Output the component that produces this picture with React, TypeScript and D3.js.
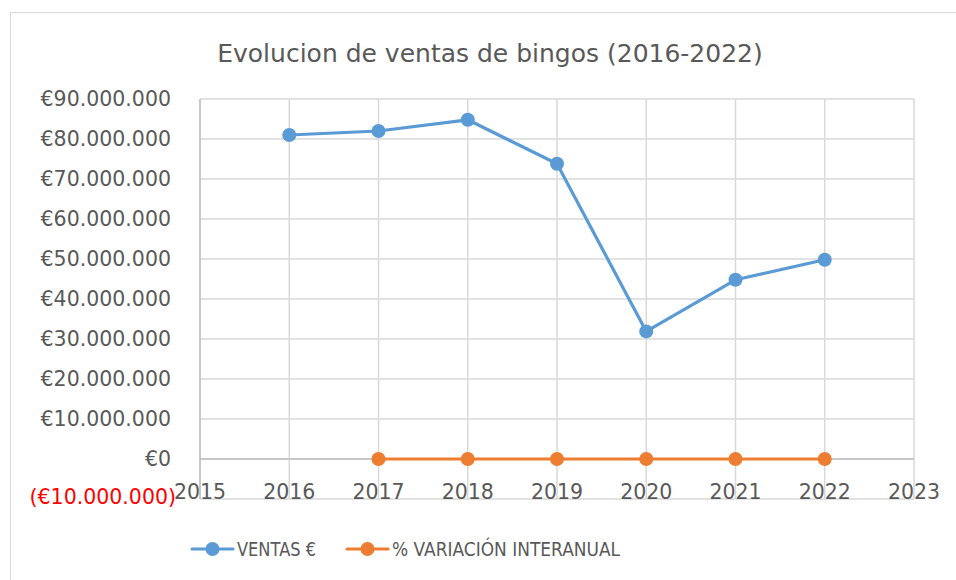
import React, { useEffect, useRef } from 'react';
import * as d3 from 'd3';

const years = [2016, 2017, 2018, 2019, 2020, 2021, 2022];
const ventas = [81000000, 82000000, 84800000, 73800000, 31900000, 44800000, 49800000];
// % variación interanual (starts in 2017)
const variacionYears = [2017, 2018, 2019, 2020, 2021, 2022];
const variacion = [0.012, 0.034, -0.13, -0.57, 0.4, 0.11];
const yTicks = [-10000000, 0, 10000000, 20000000, 30000000, 40000000, 50000000, 60000000, 70000000, 80000000, 90000000];
const xTicks = [2015, 2016, 2017, 2018, 2019, 2020, 2021, 2022, 2023];

const BLUE = '#5b9bd5';
const ORANGE = '#ed7d31';
const TEXT = '#595959';
const FONT = '"DejaVu Sans", sans-serif';

const fmt = (v: number) => {
  const s = '€' + d3.format(',')(Math.abs(v)).replace(/,/g, '.');
  return v < 0 ? `(${s})` : s;
};

const App = () => {
  const ref = useRef<SVGSVGElement | null>(null);

  useEffect(() => {
    if (!ref.current) return;
    const svg = d3.select(ref.current);
    svg.selectAll('*').remove();

    const margin = { top: 99, left: 200, right: 42, bottom: 81 };
    const width = 956 - margin.left - margin.right;
    const height = 580 - margin.top - margin.bottom;

    // chart frame (cropped like the original)
    svg.append('rect')
      .attr('x', 10.5).attr('y', 12.5)
      .attr('width', 960).attr('height', 600)
      .attr('fill', '#fff').attr('stroke', '#d9d9d9');

    svg.append('text')
      .attr('x', 490).attr('y', 62)
      .attr('text-anchor', 'middle')
      .attr('font-family', FONT).attr('font-size', 25)
      .attr('fill', TEXT)
      .text('Evolucion de ventas de bingos (2016-2022)');

    const x = d3.scaleLinear().domain([2015, 2023]).range([0, width]);
    const y = d3.scaleLinear().domain([-10000000, 90000000]).range([height, 0]);

    const g = svg.append('g').attr('transform', `translate(${margin.left},${margin.top})`);

    // gridlines
    g.selectAll('.hgrid').data(yTicks).enter().append('line')
      .attr('x1', 0).attr('x2', width)
      .attr('y1', (d) => y(d)).attr('y2', (d) => y(d))
      .attr('stroke', '#d9d9d9').attr('stroke-width', 1.5);
    g.selectAll('.vgrid').data(xTicks).enter().append('line')
      .attr('x1', (d) => x(d)).attr('x2', (d) => x(d))
      .attr('y1', 0).attr('y2', height)
      .attr('stroke', '#d9d9d9').attr('stroke-width', 1.5);

    // axes lines
    g.append('line')
      .attr('x1', 0).attr('x2', width)
      .attr('y1', y(0)).attr('y2', y(0))
      .attr('stroke', '#bfbfbf').attr('stroke-width', 1.5);
    g.append('line')
      .attr('x1', 0).attr('x2', 0)
      .attr('y1', 0).attr('y2', height)
      .attr('stroke', '#bfbfbf').attr('stroke-width', 1.5);

    // y labels
    g.selectAll('.ylab').data(yTicks).enter().append('text')
      .attr('x', (d) => (d < 0 ? -24 : -29))
      .attr('y', (d) => y(d) + (d < 0 ? -2 : 0))
      .attr('dy', '0.35em')
      .attr('text-anchor', 'end')
      .attr('font-family', FONT).attr('font-size', 20.5)
      .attr('fill', (d) => (d < 0 ? '#ff0000' : TEXT))
      .text((d) => fmt(d));

    // x labels
    g.selectAll('.xlab').data(xTicks).enter().append('text')
      .attr('x', (d) => x(d))
      .attr('y', y(0) + 40)
      .attr('text-anchor', 'middle')
      .attr('font-family', FONT).attr('font-size', 20.5)
      .attr('fill', TEXT)
      .text((d) => d);

    const line = d3.line<[number, number]>()
      .x((d) => x(d[0]))
      .y((d) => y(d[1]));

    const series = [
      { name: 'VENTAS €', color: BLUE, pts: years.map((yr, i) => [yr, ventas[i]] as [number, number]) },
      { name: '% VARIACIÓN INTERANUAL', color: ORANGE, pts: variacionYears.map((yr, i) => [yr, variacion[i]] as [number, number]) },
    ];

    series.forEach((s) => {
      g.append('path')
        .datum(s.pts)
        .attr('fill', 'none')
        .attr('stroke', s.color)
        .attr('stroke-width', 3.2)
        .attr('stroke-linejoin', 'round')
        .attr('d', line);
      g.selectAll(null).data(s.pts).enter().append('circle')
        .attr('cx', (d) => x(d[0]))
        .attr('cy', (d) => y(d[1]))
        .attr('r', 7)
        .attr('fill', s.color);
    });

    // legend
    const legendX = [192, 347];
    const legendW = [79, 228];
    series.forEach((s, i) => {
      const lg = svg.append('g').attr('transform', `translate(${legendX[i]},549)`);
      lg.append('line')
        .attr('x1', 0).attr('x2', 41).attr('y1', 0).attr('y2', 0)
        .attr('stroke', s.color).attr('stroke-width', 3.2).attr('stroke-linecap', 'round');
      lg.append('circle').attr('cx', 20.5).attr('cy', 0).attr('r', 7).attr('fill', s.color);
      lg.append('text')
        .attr('x', 45).attr('y', 0).attr('dy', '0.36em')
        .attr('font-family', FONT).attr('font-size', 20)
        .attr('textLength', legendW[i])
        .attr('lengthAdjust', 'spacingAndGlyphs')
        .attr('fill', TEXT)
        .text(s.name);
    });
  }, []);

  return (
    <svg
      ref={ref}
      width={956}
      height={580}
      style={{ position: 'absolute', left: 0, top: 0, background: '#fff' }}
    />
  );
};

export default App;
